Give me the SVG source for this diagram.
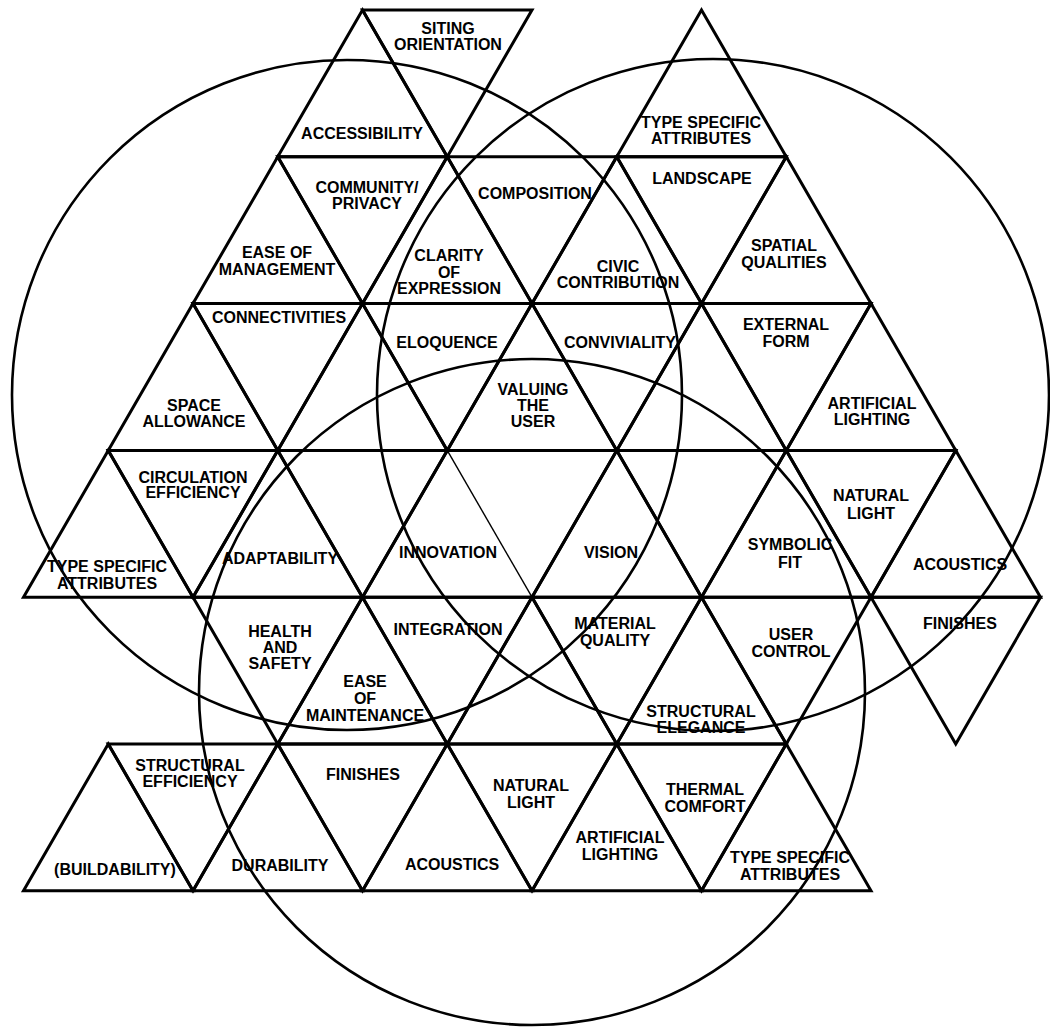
<svg xmlns="http://www.w3.org/2000/svg" width="1050" height="1028" viewBox="0 0 1050 1028">
<style>
.t{fill:none;stroke:#000;stroke-width:3;stroke-linejoin:miter}
.c{fill:none;stroke:#000;stroke-width:2.6}
.thin{fill:none;stroke:#000;stroke-width:1.4}
text{font-family:"Liberation Sans",Arial,sans-serif;font-weight:bold;font-size:16px;text-anchor:middle;fill:#000}
</style>
<rect width="1050" height="1028" fill="#fff"/>
<g id="grid-empty">
<polygon class="t" points="362.5,303.6 277.75,450.4 447.25,450.4"/>
<polygon class="t" points="701.5,303.6 616.75,450.4 786.25,450.4"/>
<polygon class="t" points="277.75,450.4 447.25,450.4 362.5,597.2"/>
<polyline class="t" points="447.25,450.4 616.75,450.4 532,597.2"/>
<polygon class="t" points="616.75,450.4 786.25,450.4 701.5,597.2"/>
<polygon class="t" points="532,597.2 447.25,743.9 616.75,743.9"/>
<line class="thin" x1="447.25" y1="450.4" x2="532" y2="597.2"/>
</g>
<g id="n-siting"><polygon class="t" points="362.5,10 532,10 447.25,156.8"/><text x="448" y="34">SITING</text><text x="448" y="50">ORIENTATION</text></g>
<g id="n-accessibility"><polygon class="t" points="362.5,10 277.75,156.8 447.25,156.8"/><text x="362" y="139">ACCESSIBILITY</text></g>
<g id="n-tsa-top"><polygon class="t" points="701.5,10 616.75,156.8 786.25,156.8"/><text x="701" y="128">TYPE SPECIFIC</text><text x="701" y="144">ATTRIBUTES</text></g>
<g id="n-ease-mgmt"><polygon class="t" points="277.75,156.8 193,303.6 362.5,303.6"/><text x="277" y="258">EASE OF</text><text x="277" y="275">MANAGEMENT</text></g>
<g id="n-community"><polygon class="t" points="277.75,156.8 447.25,156.8 362.5,303.6"/><text x="367" y="193">COMMUNITY/</text><text x="367" y="209">PRIVACY</text></g>
<g id="n-clarity"><polygon class="t" points="447.25,156.8 362.5,303.6 532,303.6"/><text x="449" y="261">CLARITY</text><text x="449" y="278">OF</text><text x="449" y="294">EXPRESSION</text></g>
<g id="n-composition"><polygon class="t" points="447.25,156.8 616.75,156.8 532,303.6"/><text x="535" y="199">COMPOSITION</text></g>
<g id="n-civic"><polygon class="t" points="616.75,156.8 532,303.6 701.5,303.6"/><text x="618" y="272">CIVIC</text><text x="618" y="288">CONTRIBUTION</text></g>
<g id="n-landscape"><polygon class="t" points="616.75,156.8 786.25,156.8 701.5,303.6"/><text x="702" y="184">LANDSCAPE</text></g>
<g id="n-spatial"><polygon class="t" points="786.25,156.8 701.5,303.6 871,303.6"/><text x="784" y="251">SPATIAL</text><text x="784" y="268">QUALITIES</text></g>
<g id="n-space"><polygon class="t" points="193,303.6 108.25,450.4 277.75,450.4"/><text x="194" y="411">SPACE</text><text x="194" y="427">ALLOWANCE</text></g>
<g id="n-connectivities"><polygon class="t" points="193,303.6 362.5,303.6 277.75,450.4"/><text x="279" y="323">CONNECTIVITIES</text></g>
<g id="n-eloquence"><polygon class="t" points="362.5,303.6 532,303.6 447.25,450.4"/><text x="447" y="348">ELOQUENCE</text></g>
<g id="n-valuing"><polygon class="t" points="532,303.6 447.25,450.4 616.75,450.4"/><text x="533" y="395">VALUING</text><text x="533" y="411">THE</text><text x="533" y="427">USER</text></g>
<g id="n-conviviality"><polygon class="t" points="532,303.6 701.5,303.6 616.75,450.4"/><text x="620" y="348">CONVIVIALITY</text></g>
<g id="n-external"><polygon class="t" points="701.5,303.6 871,303.6 786.25,450.4"/><text x="786" y="330">EXTERNAL</text><text x="786" y="347">FORM</text></g>
<g id="n-art-light-r"><polygon class="t" points="871,303.6 786.25,450.4 955.75,450.4"/><text x="872" y="409">ARTIFICIAL</text><text x="872" y="425">LIGHTING</text></g>
<g id="n-tsa-left"><polygon class="t" points="108.25,450.4 23.5,597.2 193,597.2"/><text x="107" y="572">TYPE SPECIFIC</text><text x="107" y="589">ATTRIBUTES</text></g>
<g id="n-circulation"><polygon class="t" points="108.25,450.4 277.75,450.4 193,597.2"/><text x="193" y="483">CIRCULATION</text><text x="193" y="498">EFFICIENCY</text></g>
<g id="n-adaptability"><polygon class="t" points="277.75,450.4 193,597.2 362.5,597.2"/><text x="280" y="564">ADAPTABILITY</text></g>
<g id="n-innovation"><polyline class="t" points="532,597.2 362.5,597.2 447.25,450.4"/><text x="448" y="558">INNOVATION</text></g>
<g id="n-vision"><polygon class="t" points="616.75,450.4 532,597.2 701.5,597.2"/><text x="611" y="558">VISION</text></g>
<g id="n-symbolic"><polygon class="t" points="786.25,450.4 701.5,597.2 871,597.2"/><text x="790" y="550">SYMBOLIC</text><text x="790" y="568">FIT</text></g>
<g id="n-natural-r"><polygon class="t" points="786.25,450.4 955.75,450.4 871,597.2"/><text x="871" y="501">NATURAL</text><text x="871" y="519">LIGHT</text></g>
<g id="n-acoustics-r"><polygon class="t" points="955.75,450.4 871,597.2 1040.5,597.2"/><text x="960" y="570">ACOUSTICS</text></g>
<g id="n-health"><polygon class="t" points="193,597.2 362.5,597.2 277.75,743.9"/><text x="280" y="637">HEALTH</text><text x="280" y="653">AND</text><text x="280" y="669">SAFETY</text></g>
<g id="n-ease-maint"><polygon class="t" points="362.5,597.2 277.75,743.9 447.25,743.9"/><text x="365" y="687">EASE</text><text x="365" y="704">OF</text><text x="365" y="721">MAINTENANCE</text></g>
<g id="n-integration"><polygon class="t" points="362.5,597.2 532,597.2 447.25,743.9"/><text x="448" y="635">INTEGRATION</text></g>
<g id="n-material"><polygon class="t" points="532,597.2 701.5,597.2 616.75,743.9"/><text x="615" y="629">MATERIAL</text><text x="615" y="646">QUALITY</text></g>
<g id="n-struct-eleg"><polygon class="t" points="701.5,597.2 616.75,743.9 786.25,743.9"/><text x="701" y="717">STRUCTURAL</text><text x="701" y="733">ELEGANCE</text></g>
<g id="n-user-control"><polygon class="t" points="701.5,597.2 871,597.2 786.25,743.9"/><text x="791" y="640">USER</text><text x="791" y="657">CONTROL</text></g>
<g id="n-finishes-r"><polygon class="t" points="871,597.2 1040.5,597.2 955.75,743.9"/><text x="960" y="629">FINISHES</text></g>
<g id="n-buildability"><polygon class="t" points="108.25,743.9 23.5,890.7 193,890.7"/><text x="115" y="875">(BUILDABILITY)</text></g>
<g id="n-struct-eff"><polygon class="t" points="108.25,743.9 277.75,743.9 193,890.7"/><text x="190" y="771">STRUCTURAL</text><text x="190" y="787">EFFICIENCY</text></g>
<g id="n-durability"><polygon class="t" points="277.75,743.9 193,890.7 362.5,890.7"/><text x="280" y="871">DURABILITY</text></g>
<g id="n-finishes-b"><polygon class="t" points="277.75,743.9 447.25,743.9 362.5,890.7"/><text x="363" y="780">FINISHES</text></g>
<g id="n-acoustics-b"><polygon class="t" points="447.25,743.9 362.5,890.7 532,890.7"/><text x="452" y="870">ACOUSTICS</text></g>
<g id="n-natural-b"><polygon class="t" points="447.25,743.9 616.75,743.9 532,890.7"/><text x="531" y="791">NATURAL</text><text x="531" y="808">LIGHT</text></g>
<g id="n-art-light-b"><polygon class="t" points="616.75,743.9 532,890.7 701.5,890.7"/><text x="620" y="843">ARTIFICIAL</text><text x="620" y="860">LIGHTING</text></g>
<g id="n-thermal"><polygon class="t" points="616.75,743.9 786.25,743.9 701.5,890.7"/><text x="705" y="795">THERMAL</text><text x="705" y="812">COMFORT</text></g>
<g id="n-tsa-bottom"><polygon class="t" points="786.25,743.9 701.5,890.7 871,890.7"/><text x="790" y="863">TYPE SPECIFIC</text><text x="790" y="880">ATTRIBUTES</text></g>
<g id="connectors">
<circle class="c" cx="347" cy="395" r="335"/>
<circle class="c" cx="713" cy="395" r="336"/>
<circle class="c" cx="532" cy="692" r="333"/>
</g>
</svg>
